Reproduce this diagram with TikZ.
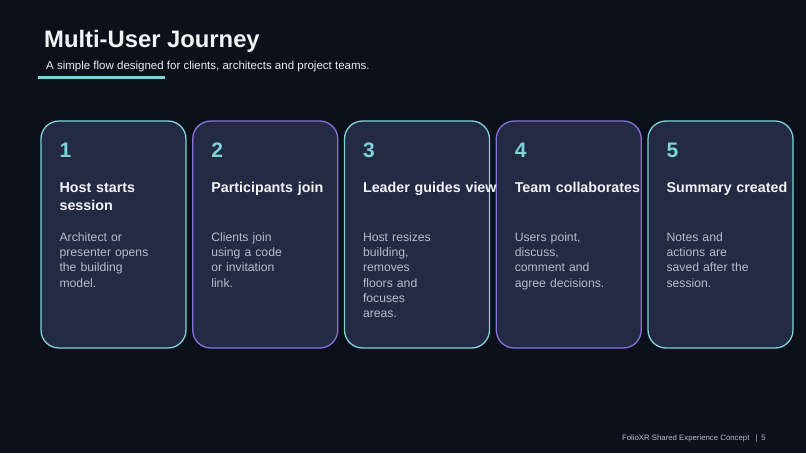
\documentclass[tikz,border=0pt]{standalone}
\usepackage{fontspec}
\usepackage{xcolor}
\usepackage{tikz}
\setmainfont{Liberation Sans}
\definecolor{pagenight}{RGB}{12,16,27}
\definecolor{cardnavy}{RGB}{34,42,68}
\definecolor{edgeteal}{RGB}{125,211,214}
\definecolor{edgeviolet}{RGB}{138,112,222}
\definecolor{softwhite}{RGB}{242,244,247}
\definecolor{mistgrey}{RGB}{184,189,204}
\usetikzlibrary{positioning,calc}

\begin{document}
\begin{tikzpicture}[
    x=1pt, y=-1pt,
    card/.style={rectangle, rounded corners=18pt, line width=1.3pt, fill=cardnavy, minimum width=145pt, minimum height=227pt, inner sep=0pt},
    tealcard/.style={card, draw=edgeteal},
    violetcard/.style={card, draw=edgeviolet},
    stepnum/.style={anchor=base west, inner sep=0pt, text=edgeteal, font=\fontsize{21}{24}\selectfont\bfseries},
    steptitle/.style={anchor=base west, inner sep=0pt, text width=160pt, text=softwhite, align=left, font=\fontsize{14.3}{18}\selectfont\bfseries},
    stepbody/.style={anchor=base west, inner sep=0pt, text width=118pt, text=mistgrey, align=left, font=\fontsize{12.2}{15.3}\selectfont}
]

% Background
\fill[pagenight] (0,0) rectangle (806,453);
\useasboundingbox (0,0) rectangle (806,453);

% Heading
\node[anchor=base west, inner sep=0pt, text=softwhite, font=\fontsize{23.8}{28}\selectfont\bfseries] (title) at (44,47) {Multi-User Journey};
\node[anchor=base west, inner sep=0pt, text=softwhite!85!mistgrey, font=\fontsize{11.5}{13}\selectfont] (subtitle) at (46,69) {A simple flow designed for clients, architects and project teams.};
\fill[edgeteal] (38,75.5) rectangle (165,78.5);

% Cards
\node[tealcard] (card1) at (113.5,234.5) {};
\node[violetcard] (card2) at (265.25,234.5) {};
\node[tealcard] (card3) at (417,234.5) {};
\node[violetcard] (card4) at (568.75,234.5) {};
\node[tealcard] (card5) at (720.5,234.5) {};

% Step 1
\node[stepnum] (num1) at ($(card1.north west)+(19,37)$) {1};
\node[steptitle] (head1) at ($(card1.north west)+(19,72)$) {Host starts\\session};
\node[stepbody] (text1) at ($(card1.north west)+(19,121)$) {Architect or\\presenter opens\\the building\\model.};

% Step 2
\node[stepnum] (num2) at ($(card2.north west)+(19,37)$) {2};
\node[steptitle] (head2) at ($(card2.north west)+(19,72)$) {Participants join};
\node[stepbody] (text2) at ($(card2.north west)+(19,121)$) {Clients join\\using a code\\or invitation\\link.};

% Step 3
\node[stepnum] (num3) at ($(card3.north west)+(19,37)$) {3};
\node[steptitle] (head3) at ($(card3.north west)+(19,72)$) {Leader guides view};
\node[stepbody] (text3) at ($(card3.north west)+(19,121)$) {Host resizes\\building,\\removes\\floors and\\focuses\\areas.};

% Step 4
\node[stepnum] (num4) at ($(card4.north west)+(19,37)$) {4};
\node[steptitle] (head4) at ($(card4.north west)+(19,72)$) {Team collaborates};
\node[stepbody] (text4) at ($(card4.north west)+(19,121)$) {Users point,\\discuss,\\comment and\\agree decisions.};

% Step 5
\node[stepnum] (num5) at ($(card5.north west)+(19,37)$) {5};
\node[steptitle] (head5) at ($(card5.north west)+(19,72)$) {Summary created};
\node[stepbody] (text5) at ($(card5.north west)+(19,121)$) {Notes and\\actions are\\saved after the\\session.};

% Footer
\node[anchor=base east, inner sep=0pt, text=mistgrey, font=\fontsize{7.8}{9}\selectfont] (footer) at (766,440) {FolioXR Shared Experience Concept \enspace|\enspace 5};

\end{tikzpicture}
\end{document}
